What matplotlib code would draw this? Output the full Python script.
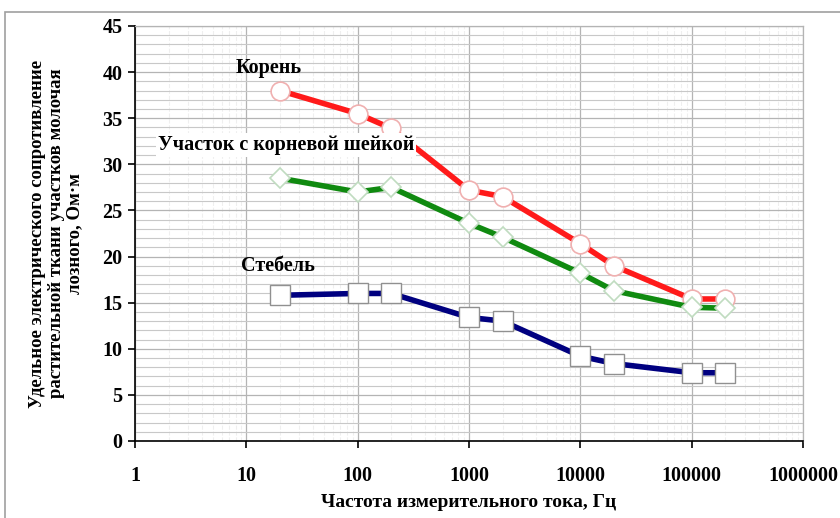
import matplotlib.pyplot as plt
from matplotlib.patches import Rectangle
from matplotlib.ticker import LogLocator, FixedLocator, MultipleLocator, FixedFormatter

plt.rcParams['font.family'] = ['Liberation Serif', 'DejaVu Serif']
plt.rcParams['font.weight'] = 'bold'

# frequencies, Hz
freq = [20, 100, 200, 1000, 2000, 10000, 20000, 100000, 200000]
# resistivity, Ohm*m
root = [38.0, 35.5, 33.9, 27.2, 26.5, 21.4, 19.0, 15.4, 15.4]
neck = [28.5, 27.0, 27.5, 23.6, 22.1, 18.2, 16.3, 14.5, 14.4]
stem = [15.8, 16.0, 16.0, 13.4, 13.0, 9.2, 8.4, 7.4, 7.4]

x_ticks = [1, 10, 100, 1000, 10000, 100000, 1000000]
x_tick_labels = ['1', '10', '100', '1000', '10000', '100000', '1000000']

fig = plt.figure(figsize=(8.4, 5.18), dpi=100)
ax = fig.add_axes([135 / 840, 1 - 441 / 518, (803 - 135) / 840, (441 - 26) / 518])

# outer chart frame
fig.patches.append(Rectangle((5 / 840, -0.01), 1.0, 1 - 12 / 518 + 0.01,
                             transform=fig.transFigure, fill=False,
                             edgecolor='#a0a0a0', lw=1.2))

ax.set_xscale('log')
ax.set_xlim(1, 1e6)
ax.set_ylim(0, 45)

# grid
ax.yaxis.set_major_locator(MultipleLocator(5))
ax.yaxis.set_minor_locator(MultipleLocator(1))
ax.xaxis.set_major_locator(FixedLocator(x_ticks))
ax.xaxis.set_major_formatter(FixedFormatter(x_tick_labels))
ax.xaxis.set_minor_locator(LogLocator(base=10, subs=range(2, 10)))
ax.grid(True, which='major', color='#b4b4b4', lw=0.9)
ax.grid(True, which='minor', axis='y', color='#c8c8c8', lw=0.8)
ax.grid(True, which='minor', axis='x', color='#efefef', lw=0.8, ls='--')
ax.set_axisbelow(True)

ax.plot(freq, root, color='#ff1a1a', lw=4, marker='o', ms=13.5,
        mfc='white', mec='#f0b0b0', mew=1.2, zorder=3)
ax.plot(freq, neck, color='#108a10', lw=4, marker='D', ms=10,
        mfc='white', mec='#c0dcc0', mew=1.2, zorder=3)
ax.plot(freq, stem, color='#000080', lw=4, marker='s', ms=14,
        mfc='white', mec='#909090', mew=1.0, zorder=3)

ax.text(16, 40.4, 'Корень', ha='center', va='center', fontsize=14.5, fontweight='bold')
ax.text(22.8, 32.1, 'Участок с корневой шейкой', ha='center', va='center',
        fontsize=14.5, fontweight='bold',
        bbox=dict(facecolor='white', edgecolor='none', pad=1.5), zorder=4)
ax.text(19.3, 19.0, 'Стебель', ha='center', va='center', fontsize=14.5, fontweight='bold')

for s in ['top', 'right']:
    ax.spines[s].set_color('#b4b4b4')
    ax.spines[s].set_linewidth(0.9)
for s in ['left', 'bottom']:
    ax.spines[s].set_color('black')
    ax.spines[s].set_linewidth(1.2)

ax.tick_params(axis='both', which='major', direction='out', length=5, width=1.2,
               labelsize=14.5, pad=4)
ax.tick_params(axis='x', which='major', pad=13)
ax.tick_params(axis='both', which='minor', length=0)
for lbl in ax.get_xticklabels() + ax.get_yticklabels():
    lbl.set_fontweight('bold')

ax.set_xlabel('Частота измерительного тока, Гц', fontsize=14, fontweight='bold', labelpad=6)
ax.set_ylabel('Удельное электрического сопротивление\nрастительной ткани участков молочая\nлозного, Ом·м',
              fontsize=13.5, fontweight='bold', labelpad=14, linespacing=1.1)

fig.savefig('out.png', dpi=100)
